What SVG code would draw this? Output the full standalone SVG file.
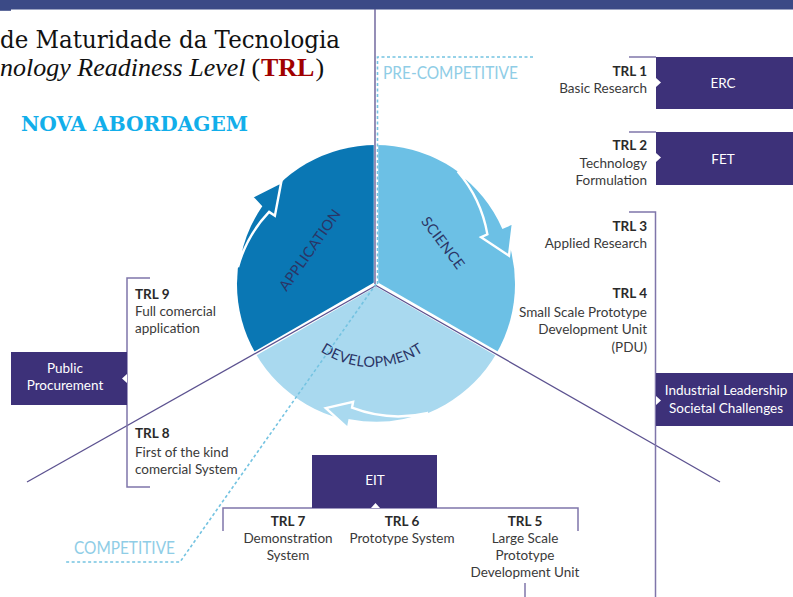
<svg xmlns="http://www.w3.org/2000/svg" width="793" height="597" viewBox="0 0 793 597">
<style>
.t{font-family:Lato,"Open Sans",sans-serif;font-size:13.5px;fill:#3a3a3a}
.b{font-weight:700;fill:#2a2a2a}
.w{font-family:Lato,"Open Sans",sans-serif;font-size:13.5px;fill:#ffffff}
.seg{font-family:Lato,"Open Sans",sans-serif;font-size:14.5px;fill:#2b3566;letter-spacing:0.3px}
.box{fill:#3d3179}
.br{fill:none;stroke:#7f76aa;stroke-width:1.5}
.gap{stroke:#ffffff;stroke-width:4.5}
.pl{stroke:#5c5290;stroke-width:1.3;fill:none}
.dash{fill:none;stroke:#74c3e1;stroke-width:1.6;stroke-dasharray:3 2.5}
.arrow{stroke:#ffffff;stroke-width:2.4;stroke-linejoin:miter}
.comp{font-family:Lato,"Open Sans",sans-serif;font-size:17px;fill:#8fcde6}
.ser{font-family:"DejaVu Serif","Liberation Serif",serif;font-size:25px;fill:#111}
.ser2{font-family:"Liberation Serif","DejaVu Serif",serif;font-size:26px;fill:#111}
.red{fill:#a00000;font-weight:bold}
</style>
<rect x="0" y="0" width="793" height="9.5" fill="#3b4a86"/>
<rect x="0" y="0" width="11" height="10.8" fill="#3b4a86"/>

<g id="title">
<text class="ser" x="0" y="48" textLength="340" lengthAdjust="spacingAndGlyphs">de Maturidade da Tecnologia</text>
<text class="ser2" x="0" y="76" font-style="italic">nology Readiness Level</text>
<text class="ser2" x="251.5" y="76">(</text>
<text class="ser2 red" x="261" y="76">TRL</text>
<text class="ser2" x="315.5" y="76">)</text>
<text x="21" y="131" font-family="DejaVu Serif,Liberation Serif,serif" font-size="20" font-weight="bold" fill="#12aeea" textLength="227" lengthAdjust="spacingAndGlyphs">NOVA ABORDAGEM</text>
</g>

<g id="wheel">
<path id="seg-application" d="M376,284 L255.6,353.5 A139,139 0 0 1 376,145 Z" fill="#0a77b4"/>
<path id="seg-science" d="M376,284 L376,145 A139,139 0 0 1 496.4,353.5 Z" fill="#6cc0e5"/>
<path id="seg-development" d="M376,284 L496.4,353.5 A139,139 0 0 1 255.6,353.5 Z" fill="#a9d9ef"/>
<path class="arrow" fill="#0a77b4" d="M238.0,267.1 A130,130 0 0 1 269.1,211.9 L274.9,215.8 L281.2,182.3 L252,197 L260.8,206.3 A139,139 0 0 0 238.0,267.1 Z"/>
<path class="arrow" fill="#6cc0e5" d="M457.7,171.5 A130,130 0 0 1 487.4,234.4 L481.1,237.2 L509.0,255.7 L513.0,223.0 L503.0,227.5 A139,139 0 0 0 457.7,171.5 Z"/>
<path class="arrow" fill="#a9d9ef" d="M428.1,412.9 A130,130 0 0 1 352.0,407.7 L353.1,401.8 L325.8,408.2 L348.0,428.3 L349.5,420.4 A139,139 0 0 0 428.1,412.9 Z"/>
<line class="gap" x1="376" y1="284" x2="376" y2="140"/>
<line class="gap" x1="376" y1="284" x2="251" y2="356"/>
<line class="gap" x1="376" y1="284" x2="501" y2="356"/>
<text class="seg" transform="translate(310,250) rotate(-55)" text-anchor="middle" y="5">APPLICATION</text>
<text class="seg" transform="translate(443,243) rotate(53)" text-anchor="middle" y="5">SCIENCE</text>
<path id="devarc" d="M292.3,321 A92,92 0 0 0 451.7,321" fill="none"/>
<text class="seg"><textPath href="#devarc" startOffset="50%" text-anchor="middle">DEVELOPMENT</textPath></text>
</g>

<g id="connectors">
<line class="pl" x1="375" y1="9" x2="375" y2="284"/>
<line class="pl" x1="376" y1="285.5" x2="27" y2="482"/>
<line class="pl" x1="376" y1="285.5" x2="720" y2="482"/>
<path class="dash" d="M533,57 L377.5,57 L377.5,284"/>
<path class="dash" d="M376,284 L180,562 L65,562"/>
<line class="br" x1="629" y1="57" x2="656" y2="57"/>
<line class="br" x1="629" y1="132" x2="656" y2="132"/>
<polyline class="br" points="629,212 655.5,212 655.5,597"/>
<polyline class="br" points="150,278 127,278 127,487 150,487"/>
<polyline class="br" points="223,531 223,508 578,508 578,531"/>
<line class="br" x1="525" y1="583" x2="525" y2="597"/>
</g>

<g id="zones">
<text class="comp" x="383" y="79" textLength="135" lengthAdjust="spacingAndGlyphs">PRE-COMPETITIVE</text>
<text class="comp" x="74" y="554" textLength="101" lengthAdjust="spacingAndGlyphs">COMPETITIVE</text>
</g>

<g id="erc">
<rect class="box" x="656" y="57" width="137" height="52"/>
<polygon points="656,78 661,82.5 656,87" fill="#fff"/>
<text class="w" x="723" y="88" text-anchor="middle">ERC</text>
</g>
<g id="fet">
<rect class="box" x="656" y="132" width="137" height="53"/>
<polygon points="656,153 661,157.5 656,162" fill="#fff"/>
<text class="w" x="723" y="164" text-anchor="middle">FET</text>
</g>
<g id="industrial">
<rect class="box" x="656" y="373" width="137" height="53"/>
<polygon points="656,396 661,400.5 656,405" fill="#fff"/>
<text class="w" x="726" y="395" text-anchor="middle">Industrial Leadership</text>
<text class="w" x="726" y="413" text-anchor="middle">Societal Challenges</text>
</g>
<g id="public">
<rect class="box" x="11" y="352" width="116" height="53"/>
<polygon points="127,374 122,378.5 127,383" fill="#fff"/>
<text class="w" x="65" y="373" text-anchor="middle">Public</text>
<text class="w" x="65" y="390" text-anchor="middle">Procurement</text>
</g>
<g id="eit">
<rect class="box" x="312" y="455" width="125" height="53"/>
<polygon points="371,508 375.5,503 380,508" fill="#fff"/>
<text class="w" x="375" y="485" text-anchor="middle">EIT</text>
</g>

<g id="trl1">
<text class="t b" x="647" y="76" text-anchor="end">TRL 1</text>
<text class="t" x="647" y="93" text-anchor="end">Basic Research</text>
</g>
<g id="trl2">
<text class="t b" x="647" y="150" text-anchor="end">TRL 2</text>
<text class="t" x="647" y="168" text-anchor="end">Technology</text>
<text class="t" x="647" y="185" text-anchor="end">Formulation</text>
</g>
<g id="trl3">
<text class="t b" x="647" y="231" text-anchor="end">TRL 3</text>
<text class="t" x="647" y="248" text-anchor="end">Applied Research</text>
</g>
<g id="trl4">
<text class="t b" x="647" y="298" text-anchor="end">TRL 4</text>
<text class="t" x="647" y="317" text-anchor="end">Small Scale Prototype</text>
<text class="t" x="647" y="334" text-anchor="end">Development Unit</text>
<text class="t" x="647" y="352" text-anchor="end">(PDU)</text>
</g>
<g id="trl9">
<text class="t b" x="135" y="299">TRL 9</text>
<text class="t" x="135" y="316">Full comercial</text>
<text class="t" x="135" y="333">application</text>
</g>
<g id="trl8">
<text class="t b" x="135" y="438">TRL 8</text>
<text class="t" x="135" y="457">First of the kind</text>
<text class="t" x="135" y="474">comercial System</text>
</g>
<g id="trl7">
<text class="t b" x="288" y="526" text-anchor="middle">TRL 7</text>
<text class="t" x="288" y="543" text-anchor="middle">Demonstration</text>
<text class="t" x="288" y="560" text-anchor="middle">System</text>
</g>
<g id="trl6">
<text class="t b" x="402" y="526" text-anchor="middle">TRL 6</text>
<text class="t" x="402" y="543" text-anchor="middle">Prototype System</text>
</g>
<g id="trl5">
<text class="t b" x="525" y="526" text-anchor="middle">TRL 5</text>
<text class="t" x="525" y="543" text-anchor="middle">Large Scale</text>
<text class="t" x="525" y="560" text-anchor="middle">Prototype</text>
<text class="t" x="525" y="577" text-anchor="middle">Development Unit</text>
</g>
</svg>
